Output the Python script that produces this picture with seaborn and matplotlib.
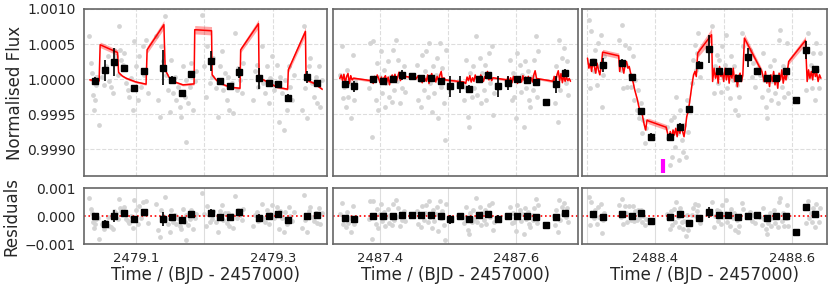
import numpy as np
import matplotlib
matplotlib.use('Agg')
import matplotlib.pyplot as plt
import seaborn as sns

sns.set_style('white')
plt.rcParams['font.family'] = ['DejaVu Sans']

# ---------------- panel 1 (BJD 2479) ----------------
p1_t0 = 2479.0
p1_bin_t = [0.040, 0.054, 0.068, 0.083, 0.097, 0.111, 0.139, 0.153, 0.167, 0.181,
            0.209, 0.223, 0.237, 0.251, 0.279, 0.294, 0.308, 0.322, 0.350, 0.364]
p1_bin_f = [0.99998, 1.00013, 1.00024, 1.00016, 0.99987, 1.00012, 1.00016, 0.99999, 0.99980, 1.00007,
            1.00026, 0.99997, 0.99990, 1.00010, 1.00001, 0.99994, 0.99993, 0.99973, 1.00003, 0.99994]
p1_bin_e = [0.00005, 0.00015, 0.00020, 0.00004, 0.00004, 0.00004, 0.00025, 0.00006, 0.00005, 0.00005,
            0.00014, 0.00005, 0.00004, 0.00008, 0.00015, 0.00004, 0.00005, 0.00006, 0.00008, 0.00004]
p1_bin_r = [0.0, -0.00028, 0.0, 0.00011, -0.00011, 0.00014, -0.00011, -0.00004, -0.00013, 0.00006,
            0.00011, -0.00004, -0.00002, 0.00016, -0.00008, -0.00001, 0.00006, -0.00013, 0.0, 0.00004]
p1_gray_t = [0.0314, 0.0339, 0.0353, 0.0378, 0.0388, 0.0397, 0.0412, 0.0422, 0.0441, 0.0461,
             0.0510, 0.0534, 0.0559, 0.0584, 0.0608, 0.0633, 0.0657, 0.0681, 0.0706, 0.0730,
             0.0745, 0.0765, 0.0780, 0.0804, 0.0828, 0.0853, 0.0878, 0.0902, 0.0927, 0.0951,
             0.0976, 0.1000, 0.1025, 0.1049, 0.1074, 0.1098, 0.1123, 0.1147, 0.1172,
             0.1294, 0.1319, 0.1343, 0.1368, 0.1392, 0.1417, 0.1441, 0.1466, 0.1490, 0.1515,
             0.1539, 0.1564, 0.1588, 0.1613, 0.1637, 0.1662, 0.1686, 0.1711, 0.1725, 0.1735,
             0.1760, 0.1784, 0.1809, 0.1833, 0.1858, 0.1882,
             0.1965, 0.1990, 0.2019, 0.2039, 0.2078, 0.2103, 0.2127, 0.2166, 0.2201, 0.2225,
             0.2250, 0.2274, 0.2299, 0.2323, 0.2348, 0.2362, 0.2397, 0.2421, 0.2446, 0.2470,
             0.2495, 0.2519, 0.2544, 0.2568,
             0.2715, 0.2740, 0.2764, 0.2789, 0.2813, 0.2838, 0.2862, 0.2887, 0.2911, 0.2936,
             0.2960, 0.2985, 0.3009, 0.3034, 0.3058, 0.3083, 0.3107, 0.3132, 0.3156, 0.3181,
             0.3205, 0.3230, 0.3254, 0.3279, 0.3303,
             0.3426, 0.3450, 0.3475, 0.3499, 0.3524, 0.3548, 0.3573, 0.3597, 0.3622, 0.3646,
             0.3671, 0.3695, 0.3710]
p1_gray_ppm = [619, 228, 95, -224, -438, -295, -81, 38, 29, -652,
               38, -81, 181, 324, -33, -105, -200, 419, 324, 62,
               752, 419, 276, 205, 371, -57, -152, -248, 14, -438,
               538, 181, -295, 324, -105, 467, 62, 562, -200,
               609, -295, -533, 467, 252, 895, 62, -152, -462, 276,
               -200, 38, -295, -105, -390, -533, 181, -248, -890, -10,
               -343, -105, 228, -438, -33, 110,
               919, 181, -248, 467, -57, 38, 300, -129, -533, 181,
               395, -152, 86, -295, 38, -438, -57, -486, 657, -152,
               157, -10, -200, 228,
               -295, 110, 205, -105, 38, 467, -57, -200, 181, -343,
               14, 324, -152, -57, 205, -605, 38, -200, -724, -10,
               -438, 181, -105, -295, 62,
               -438, 752, -129, -557, 181, 300, -57, -248, 38, -343,
               181, -390, -10]
p1_mod_t = [0.0324, 0.0461, 0.0476, 0.0730, 0.0745, 0.0800, 0.0853, 0.0930, 0.1000, 0.1147,
            0.1162, 0.1407, 0.1426, 0.1480, 0.1539, 0.1686, 0.1848, 0.1858, 0.2103, 0.2112,
            0.2170, 0.2225, 0.2372, 0.2519, 0.2529, 0.2789, 0.2798, 0.2850, 0.2911, 0.3058,
            0.3215, 0.3225, 0.3475, 0.3484, 0.3597, 0.3720]
p1_mod_ppm = [-10, -24, 490, 380, 95, 45, 15, -15, -40, -71,
              419, 776, 133, 30, -30, -81, -67, 705, 690, 62,
              -10, -57, -114, -129, 419, 790, 48, -5, -33, -114,
              -143, 133, 680, -10, -57, -143]
p1_mod_w = [15, 15, 40, 40, 20, 15, 15, 15, 15, 15,
            50, 60, 20, 15, 15, 15, 15, 60, 60, 20,
            15, 15, 15, 15, 40, 60, 20, 15, 15, 15,
            15, 40, 60, 20, 15, 15]
p1_xlim = (2479.024, 2479.379)
p1_ticks = [2479.1, 2479.2, 2479.3]
p1_labels = ['2479.1', '', '2479.3']

# ---------------- panel 2 (BJD 2487) ----------------
p2_t0 = 2487.0
p2_bin_t = [0.348, 0.362, 0.390, 0.404, 0.419, 0.432, 0.447, 0.461, 0.475, 0.489, 0.503, 0.517,
            0.531, 0.545, 0.559, 0.573, 0.588, 0.602, 0.616, 0.630, 0.644, 0.658, 0.672]
p2_bin_f = [0.99993, 0.99990, 1.00000, 0.99998, 1.00000, 1.00006, 1.00004, 1.00002, 1.00002, 0.99998,
            0.99990, 0.99992, 0.99986, 1.00000, 1.00006, 0.99990, 0.99994, 1.00000, 0.99999, 0.99996,
            0.99968, 0.99993, 1.00009]
p2_bin_e = [0.00003, 0.00008, 0.00003, 0.00004, 0.00004, 0.00007, 0.00002, 0.00004, 0.00004, 0.00004,
            0.00015, 0.00012, 0.00005, 0.00003, 0.00004, 0.00015, 0.00010, 0.00004, 0.00004, 0.00004,
            0.00002, 0.00012, 0.00005]
p2_bin_r = [-0.00007, -0.00010, 0.00001, 0.0, 0.00001, 0.00005, 0.00002, 0.00002, 0.00005, 0.0,
            -0.00012, -0.00001, -0.00012, 0.00002, 0.00007, -0.00011, -0.00001, 0.00001, 0.00001, -0.00004,
            -0.00031, -0.00005, 0.00011]
p2_gray_t = [0.3417, 0.3436, 0.3456, 0.3476, 0.3495, 0.3515, 0.3534, 0.3554, 0.3579, 0.3598, 0.3618, 0.3637,
             0.3838, 0.3858, 0.3877, 0.3897, 0.3917, 0.3936, 0.3956, 0.3975, 0.3995, 0.4015,
             0.4034, 0.4054, 0.4074, 0.4093, 0.4113, 0.4132, 0.4152, 0.4172, 0.4191, 0.4211,
             0.4230, 0.4250, 0.4270, 0.4289, 0.4309, 0.4328, 0.4348, 0.4368,
             0.4544, 0.4564, 0.4583, 0.4603, 0.4623, 0.4642, 0.4662, 0.4681, 0.4701, 0.4721,
             0.4740, 0.4760, 0.4779, 0.4799, 0.4819, 0.4838, 0.4858, 0.4877, 0.4897, 0.4917,
             0.4936, 0.4956, 0.4975,
             0.5230, 0.5250, 0.5269, 0.5289, 0.5309, 0.5328, 0.5348, 0.5368, 0.5387, 0.5407,
             0.5426, 0.5446, 0.5466, 0.5485, 0.5505, 0.5524, 0.5544, 0.5564, 0.5583, 0.5603,
             0.5622, 0.5642, 0.5662, 0.5681,
             0.5896, 0.5916, 0.5936, 0.5955, 0.5975, 0.5995, 0.6014, 0.6034, 0.6053, 0.6073,
             0.6093, 0.6112, 0.6132, 0.6152, 0.6171, 0.6191, 0.6211, 0.6230, 0.6250, 0.6270,
             0.6289, 0.6309, 0.6328,
             0.6553, 0.6572, 0.6592, 0.6612, 0.6632, 0.6651, 0.6671, 0.6690, 0.6710, 0.6730,
             0.6749, 0.6769]
p2_gray_ppm = [62, 467, -271, -105, -390, 133, -248, -57, -557, 348, -295, -33,
               -129, 514, -819, 538, -10, -295, 228, -438, 38, 395,
               -200, 133, -390, -57, 252, -248, 38, -319, 419, -152,
               562, -33, 276, -343, 86, -129, 181, -176,
               205, -295, -10, -390, 348, -152, 110, 395, -248, 514,
               -57, -462, 181, -200, 62, 300, -557, 514, -105, 157,
               -343, -866, 419,
               -295, -105, 276, -533, -676, 86, -248, 181, -129, 609,
               -224, -10, 300, -343, 86, -152, 205, -295, 38, 371,
               -57, 467, -510, -200,
               -57, 276, -295, 86, -248, -557, 371, -10, 205, -176,
               62, -676, 252, -129, 110, -295, -390, 38, -152, 276,
               609, -248, 395,
               -10, -343, 181, -605, 562, -152, 300, 38, 443, -57,
               252, -224]
p2_mod_t = [0.341, 0.343, 0.345, 0.347, 0.349, 0.351, 0.353, 0.355, 0.357, 0.359, 0.361,
            0.3858,
            0.388, 0.390, 0.392, 0.394, 0.396, 0.398, 0.400, 0.402, 0.404, 0.406, 0.408, 0.410,
            0.412, 0.414, 0.416, 0.418, 0.420, 0.422, 0.424, 0.426, 0.428, 0.430, 0.432,
            0.4534,
            0.456, 0.458, 0.460, 0.462, 0.464, 0.466, 0.468, 0.470, 0.472, 0.474, 0.476,
            0.478, 0.480, 0.482, 0.484, 0.486, 0.488, 0.490, 0.492, 0.494, 0.496,
            0.5230,
            0.526, 0.528, 0.530, 0.532, 0.534, 0.536, 0.538, 0.540, 0.542, 0.544, 0.546,
            0.548, 0.550, 0.552, 0.554, 0.556, 0.558, 0.560, 0.562, 0.564, 0.566,
            0.5867,
            0.588, 0.590, 0.592, 0.594, 0.596, 0.598, 0.600, 0.602, 0.604, 0.606, 0.608,
            0.610, 0.612, 0.614, 0.616, 0.618, 0.620, 0.622, 0.624, 0.626, 0.628, 0.630,
            0.6543,
            0.656, 0.658, 0.660, 0.662, 0.664, 0.666, 0.668, 0.670, 0.672, 0.674, 0.676, 0.678,
            0.680]
p2_mod_ppm = [10, 60, -20, 70, -50, 40, 80, -60, 50, -10, 15,
              -20,
              30, -60, 40, -30, 60, 10, -50, 30, -70, 20, 50, -40,
              30, -80, 20, 60, -10, 70, -30, 30, 100, -20, 50,
              10,
              50, -20, 30, -50, 40, 10, -30, 60, -60, 20, 80,
              -10, 30, -40, 40, -20, 60, 110, -30, 20, -10,
              -40,
              -60, 30, -20, 50, -40, 20, -30, 60, 0, 30, -40,
              60, 20, -30, 40, 20, 110, -10, 40, -20, 20,
              -10,
              30, -40, 20, -50, 40, -30, 20, -60, 30, 10, -40,
              50, -20, 30, -50, 40, -30, 20, -40, 60, 120, 10,
              -30,
              40, -60, 60, 120, -20, 80, -50, 50, -30, 30, -20, 10,
              -30]
p2_mod_w = [15] * 11 + [20] + [15] * 23 + [20] + [15] * 21 + [20] + [15] * 21 + [20] + [15] * 22 + [20] + [15] * 13
p2_xlim = (2487.331, 2487.691)
p2_ticks = [2487.4, 2487.5, 2487.6]
p2_labels = ['2487.4', '', '2487.6']

# ---------------- panel 3 (BJD 2488) ----------------
p3_t0 = 2488.0
p3_bin_t = [0.309, 0.324, 0.351, 0.366, 0.379, 0.394, 0.422, 0.436, 0.450, 0.464, 0.478,
            0.493, 0.507, 0.521, 0.535, 0.549, 0.563, 0.577, 0.591, 0.605, 0.620, 0.634]
p3_bin_f = [1.00024, 1.00020, 1.00023, 1.00003, 0.99955, 0.99918, 0.99918, 0.99932, 0.99957, 1.00020, 1.00043,
            1.00012, 1.00012, 1.00002, 1.00031, 1.00011, 1.00001, 1.00002, 1.00011, 0.99970, 1.00042, 1.00014]
p3_bin_e = [0.00005, 0.00010, 0.00006, 0.00004, 0.00004, 0.00005, 0.00005, 0.00006, 0.00005, 0.00006, 0.00020,
            0.00004, 0.00004, 0.00004, 0.00013, 0.00003, 0.00004, 0.00004, 0.00004, 0.00002, 0.00013, 0.00005]
p3_bin_r = [0.00006, -0.00002, 0.00006, 0.0, 0.00011, -0.00017, -0.00004, 0.00006, -0.00024, -0.00008, 0.00013,
            0.00002, 0.00005, -0.00005, -0.00001, 0.00002, -0.00008, -0.00001, 0.0, -0.00058, 0.00031, 0.00006]
p3_gray_t = [0.3025, 0.3044, 0.3064, 0.3084, 0.3103, 0.3123, 0.3143, 0.3162, 0.3182, 0.3201, 0.3216, 0.3236, 0.3255,
             0.3476, 0.3495, 0.3515, 0.3535, 0.3554, 0.3574, 0.3593, 0.3613, 0.3632, 0.3652, 0.3672,
             0.3691, 0.3711, 0.3730, 0.3750, 0.3770, 0.3789, 0.3809, 0.3828, 0.3848, 0.3868,
             0.4172, 0.4191, 0.4211, 0.4230, 0.4250, 0.4270, 0.4289, 0.4309, 0.4328, 0.4348,
             0.4368, 0.4387, 0.4407, 0.4427, 0.4446, 0.4466, 0.4485,
             0.4515, 0.4534, 0.4554, 0.4574, 0.4593, 0.4613, 0.4632, 0.4652,
             0.4828, 0.4858, 0.4877, 0.4897, 0.4917, 0.4936, 0.4956, 0.4975, 0.4995, 0.5014,
             0.5034, 0.5054, 0.5073, 0.5093, 0.5113, 0.5132, 0.5152, 0.5172, 0.5191, 0.5211,
             0.5230, 0.5269, 0.5289,
             0.5387, 0.5411, 0.5436, 0.5465, 0.5495, 0.5524, 0.5553, 0.5573, 0.5593, 0.5612,
             0.5632, 0.5651, 0.5671, 0.5691, 0.5710, 0.5730, 0.5750, 0.5769, 0.5789, 0.5808,
             0.5828, 0.5848, 0.5867, 0.5887, 0.5906, 0.5926, 0.5946,
             0.6210, 0.6230, 0.6249, 0.6269, 0.6288, 0.6308, 0.6328, 0.6347, 0.6367, 0.6387, 0.6406]
p3_gray_ppm = [847, -129, 681, 276, 110, 419, -81, 514, 181, 633, -390, 62, 324,
               562, 133, 776, -129, 490, 205, -105, 443, 62, -105, 324,
               -295, -10, -438, -152, -557, -343, -771, -581, -914, -700,
               -676, -843, -1223, -581, -1104, -533, -962, -248, -771, -1152,
               -438, -866, -1033, -652, -1104, -295, -747,
               -438, -57, 276, 490, 133, 371, 657, 38,
               752, -200, 181, 348, -57, 276, -176, 467, 38, 205,
               633, -129, 110, -271, 324, -10, 181, -438, -81, -510,
               -248, 657, 467,
               419, 38, 228, -105, 157, 62, -248, 371, -10, -390,
               -557, -152, 181, -295, -33, 276, -200, 38, -343, 562,
               705, -105, 181, -248, 38, 514, -200,
               -152, 657, 38, 205, -129, 371, -295, 514, 133, -129, 371]
p3_mod_t = [0.301, 0.303, 0.305, 0.307, 0.309, 0.311, 0.313, 0.315, 0.317, 0.319, 0.321,
            0.3231, 0.3466,
            0.348, 0.350, 0.352, 0.354, 0.356, 0.358, 0.360, 0.362, 0.364,
            0.366, 0.368, 0.370, 0.372, 0.374, 0.376, 0.378, 0.380, 0.382, 0.384, 0.386, 0.388,
            0.390, 0.416,
            0.418, 0.420, 0.422, 0.424, 0.426, 0.428, 0.430, 0.432, 0.434, 0.436, 0.438, 0.440, 0.442, 0.444,
            0.446, 0.448, 0.450, 0.452, 0.454, 0.456, 0.458, 0.460,
            0.462, 0.4823,
            0.4838, 0.486, 0.488, 0.490, 0.492, 0.494, 0.496, 0.498, 0.500, 0.502, 0.504, 0.506,
            0.508, 0.510, 0.512, 0.514, 0.516, 0.518, 0.520, 0.522, 0.524, 0.526, 0.528,
            0.5303, 0.5558,
            0.557, 0.559, 0.561, 0.563, 0.565, 0.567, 0.569, 0.571, 0.573, 0.575,
            0.577, 0.579, 0.581, 0.583, 0.585, 0.587, 0.589, 0.591, 0.593,
            0.5950, 0.6195,
            0.622, 0.624, 0.626, 0.628, 0.630, 0.632, 0.634, 0.636, 0.638, 0.640, 0.642]
p3_mod_ppm = [300, 157, 228, 110, 252, 181, 86, 228, 133, 62, 181,
              385, 333,
              110, 228, 181, 86, 205, 252, 157, 181, 86,
              14, -57, -152, -224, -295, -390, -462, -438, -557, -652, -724, -581,
              -595, -685,
              -771, -866, -747, -843, -724, -795, -700, -819, -676, -771, -652, -747, -819, -700,
              -533, -462, -343, -200, -57, 62, 110, 38,
              371, 633,
              -33, 157, 14, 110, -57, 181, 38, 110, -33, 157, -10, 133,
              -57, 110, 14, 157, -33, 62, -105, 38, 86, -33, 62,
              585, 110,
              62, -33, 110, -57, 38, -105, 62, -33, 110, -81,
              38, -129, 86, -10, 133, -57, 62, -10, 110,
              252, 552,
              -33, 133, 14, 110, -10, 157, 38, 86, -33, 62, 14]
p3_mod_w = ([15] * 11 + [40, 40] + [15] * 9 + [15] * 12 + [40, 40] + [15] * 14 + [15] * 8 +
            [60, 90] + [15] * 23 + [60, 40] + [15] * 19 + [40, 60] + [15] * 11)
p3_xlim = (2488.293, 2488.651)
p3_ticks = [2488.3, 2488.4, 2488.5, 2488.6]
p3_labels = ['', '2488.4', '', '2488.6']
p3_marker_t = 2488.411
p3_marker_f = (0.99866, 0.99886)

panels = [
    (p1_t0, p1_bin_t, p1_bin_f, p1_bin_e, p1_bin_r, p1_gray_t, p1_gray_ppm,
     p1_mod_t, p1_mod_ppm, p1_mod_w, p1_xlim, p1_ticks, p1_labels),
    (p2_t0, p2_bin_t, p2_bin_f, p2_bin_e, p2_bin_r, p2_gray_t, p2_gray_ppm,
     p2_mod_t, p2_mod_ppm, p2_mod_w, p2_xlim, p2_ticks, p2_labels),
    (p3_t0, p3_bin_t, p3_bin_f, p3_bin_e, p3_bin_r, p3_gray_t, p3_gray_ppm,
     p3_mod_t, p3_mod_ppm, p3_mod_w, p3_xlim, p3_ticks, p3_labels),
]

flux_ticks = [0.9990, 0.9995, 1.0000, 1.0005, 1.0010]
res_ticks = [-0.001, 0.0, 0.001]
res_labels = ['\u22120.001', '0.000', '0.001']

spine_col = '#666666'
gray_col = '#d4d4d4'
grid_col = '#dddddd'

fig = plt.figure(figsize=(8.3, 2.89), dpi=100)
lefts = [84 / 830, 333 / 830, 582 / 830]
widths = [243 / 830, 245 / 830, 245 / 830]

for i, (t0, bt, bf, be, br, gt, gp, mt, mp, mw, xlim, ticks, labels) in enumerate(panels):
    ax = fig.add_axes([lefts[i], 1 - 176 / 289, widths[i], 167 / 289])
    axr = fig.add_axes([lefts[i], 1 - 244 / 289, widths[i], 56 / 289])

    bt = t0 + np.array(bt)
    bf = np.array(bf)
    be = np.array(be)
    br = np.array(br)
    gt = t0 + np.array(gt)
    gf = 1 + np.array(gp) * 1e-6
    mt = t0 + np.array(mt)
    mf = 1 + np.array(mp) * 1e-6
    mw = np.array(mw) * 1e-6

    # top: data, model, binned points
    sns.scatterplot(x=gt, y=gf, ax=ax, color=gray_col, s=12, linewidth=0, zorder=1)
    ax.fill_between(mt, mf - mw, mf + mw, color='red', alpha=0.35, lw=0, zorder=2)
    sns.lineplot(x=mt, y=mf, ax=ax, color='red', lw=1.1, sort=False, estimator=None, zorder=3)
    ax.errorbar(bt, bf, yerr=be, fmt='s', color='black', ms=4.5, elinewidth=1.2,
                capsize=0, zorder=4)

    # residuals: data minus model level implied at the bins
    level = np.interp(gt, bt, bf - br)
    sns.scatterplot(x=gt, y=gf - level, ax=axr, color=gray_col, s=12, linewidth=0, zorder=1)
    axr.axhline(0, color='red', ls=':', lw=1.2, zorder=2)
    axr.errorbar(bt, br, yerr=be, fmt='s', color='black', ms=4.5, elinewidth=1.2,
                 capsize=0, zorder=4)

    ax.set_xlim(xlim)
    axr.set_xlim(xlim)
    ax.set_ylim(0.99862, 1.0010)
    axr.set_ylim(-0.001, 0.001)

    ax.set_xticks(ticks)
    ax.set_xticklabels([])
    axr.set_xticks(ticks)
    axr.set_xticklabels(labels, fontsize=9.5)
    ax.set_yticks(flux_ticks)
    axr.set_yticks(res_ticks)

    ax.grid(True, color=grid_col, ls='--', lw=0.8)
    axr.grid(True, axis='x', color=grid_col, ls='-', lw=0.8)
    ax.set_axisbelow(True)
    axr.set_axisbelow(True)

    for a in (ax, axr):
        for s in a.spines.values():
            s.set_color(spine_col)
            s.set_linewidth(1.2)
        a.set_xlabel('')
        a.set_ylabel('')

    ax.tick_params(axis='x', length=0)
    axr.tick_params(axis='x', length=4, width=1, color=spine_col, direction='out', pad=2)

    if i == 0:
        ax.set_yticklabels(['0.9990', '0.9995', '1.0000', '1.0005', '1.0010'], fontsize=10)
        axr.set_yticklabels(res_labels, fontsize=10)
        ax.tick_params(axis='y', length=4, width=1, color=spine_col, direction='out', pad=2)
        axr.tick_params(axis='y', length=4, width=1, color=spine_col, direction='out', pad=2)
        ax.set_ylabel('Normalised Flux', fontsize=12)
        axr.set_ylabel('Residuals', fontsize=12)
        ax.yaxis.set_label_coords(-0.245, 0.5)
        axr.yaxis.set_label_coords(-0.262, 0.5)
    else:
        ax.set_yticklabels([])
        axr.set_yticklabels([])
        ax.tick_params(axis='y', length=0)
        axr.tick_params(axis='y', length=0)

    axr.set_xlabel('Time / (BJD - 2457000)', fontsize=12, labelpad=0.5)

    if i == 2:
        ax.plot([p3_marker_t, p3_marker_t], p3_marker_f, color='magenta', lw=3,
                solid_capstyle='butt', zorder=5)

fig.savefig('out.png', dpi=100)
